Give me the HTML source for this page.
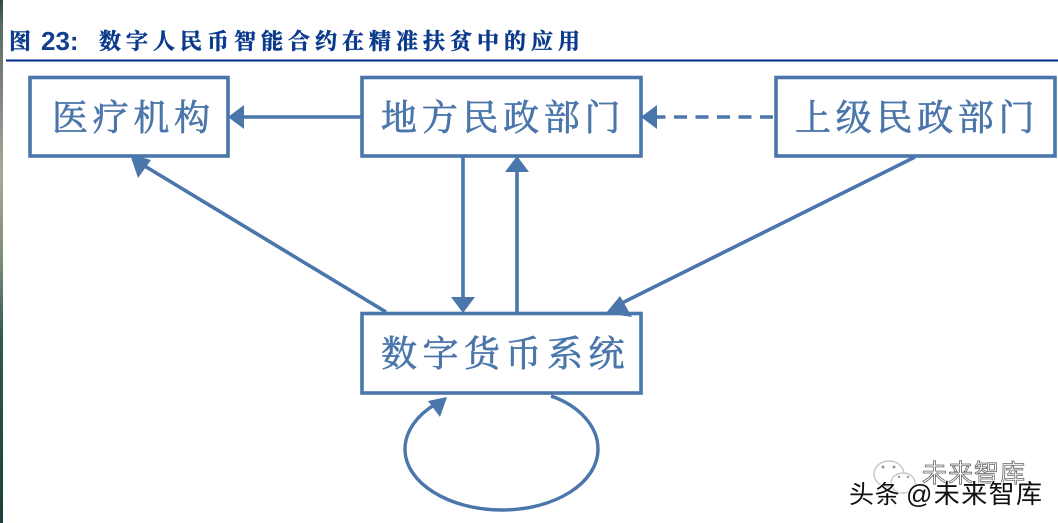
<!DOCTYPE html>
<html lang="zh"><head><meta charset="utf-8"><title>图 23</title>
<style>
html,body{margin:0;padding:0;background:#fff;width:1058px;height:523px;overflow:hidden}
svg{display:block}
.t{font-family:"Liberation Sans","Noto Serif CJK SC",serif;font-weight:700;fill:#0b3a8c;stroke:#0b3a8c;stroke-width:.5px;font-size:22px}
.n{font-family:"Liberation Serif","Noto Serif CJK SC",serif;font-size:36px;fill:#4a76ab;stroke:#4a76ab;stroke-width:.7px;letter-spacing:4.7px}
.w{font-family:"Liberation Sans","Noto Sans CJK SC",sans-serif}
</style></head><body>
<svg width="1058" height="523" viewBox="0 0 1058 523" xmlns="http://www.w3.org/2000/svg">
<defs><linearGradient id="g" x1="0" y1="0" x2="0" y2="1">
<stop offset="0" stop-color="#2c4a4a"/><stop offset=".05" stop-color="#5a6a66"/><stop offset=".33" stop-color="#a6aa9a"/><stop offset=".5" stop-color="#7b8c78"/><stop offset=".65" stop-color="#2c5a50"/><stop offset="1" stop-color="#1d3f3d"/></linearGradient></defs>
<rect x="0" y="0" width="3" height="523" fill="url(#g)"/>
<text class="t" x="9" y="49">图</text>
<text class="t" x="41" y="50" style="font-size:26px;fill:#123f8e;stroke:none">23:</text>
<text class="t" x="99" y="49" style="letter-spacing:5px">数字人民币智能合约在精准扶贫中的应用</text>
<rect x="6" y="59.500" width="1052" height="2" fill="#00288a"/>
<g fill="none" stroke="#4a76ab" stroke-width="3.600">
<rect x="30" y="77.500" width="198" height="78.500"/>
<rect x="362" y="77.500" width="279" height="78.500"/>
<rect x="776" y="77.500" width="279" height="78.500"/>
<rect x="362" y="313.500" width="279" height="79.500"/>
<path d="M361 117H240"/>
<path d="M775 117H656" stroke-dasharray="13 8.500" stroke-dashoffset="-2"/>
<path d="M463 157V300"/>
<path d="M517 312V170"/>
<path d="M386 312L143 165"/>
<path d="M915 157L622 303"/>
<path d="M551 396C580 406 598 427 598 449C598 483 555 510 502 510C449 510 405 483 405 449C405 431 418 414 436 404" stroke-width="3.400"/>
</g>
<g fill="#4a76ab">
<path d="M228 117L244 105V129Z"/>
<path d="M641 117L657 105V129Z"/>
<path d="M463 313L451 297H475Z"/>
<path d="M517 156L505 172H529Z"/>
<path d="M130 154L151 160L138 178Z"/>
<path d="M606 313L620 296L632 317Z"/>
<path d="M447 397L440 417L428 401Z"/>
</g>
<text class="n" x="52" y="130">医疗机构</text>
<text class="n" x="381" y="130">地方民政部门</text>
<text class="n" x="795" y="130">上级民政部门</text>
<text class="n" x="381" y="366" style="letter-spacing:5.500px">数字货币系统</text>
<g fill="none" stroke="#bdbdbd" stroke-width="1.200">
<ellipse cx="889" cy="474" rx="15" ry="13" fill="#fff"/>
<ellipse cx="903" cy="483" rx="12" ry="10" fill="#fff"/>
</g>
<g fill="#999"><circle cx="883" cy="467" r="1.500"/><circle cx="894" cy="467" r="1.500"/><circle cx="899" cy="477" r="1.200"/><circle cx="908" cy="477" r="1.200"/></g>
<text class="w" x="922" y="482" font-size="25" fill="#fff" stroke="#666" stroke-width=".8" style="letter-spacing:1px">未来智库</text>
<text class="w" x="849" y="503" font-size="25" fill="#111" stroke="#fff" stroke-width="1.500" paint-order="stroke" style="letter-spacing:.8px">头条</text>
<text class="w" x="906" y="503" font-size="26" fill="#111" stroke="#fff" stroke-width="1.500" paint-order="stroke" style="letter-spacing:1.400px">@未来智库</text>
</svg>
</body></html>
